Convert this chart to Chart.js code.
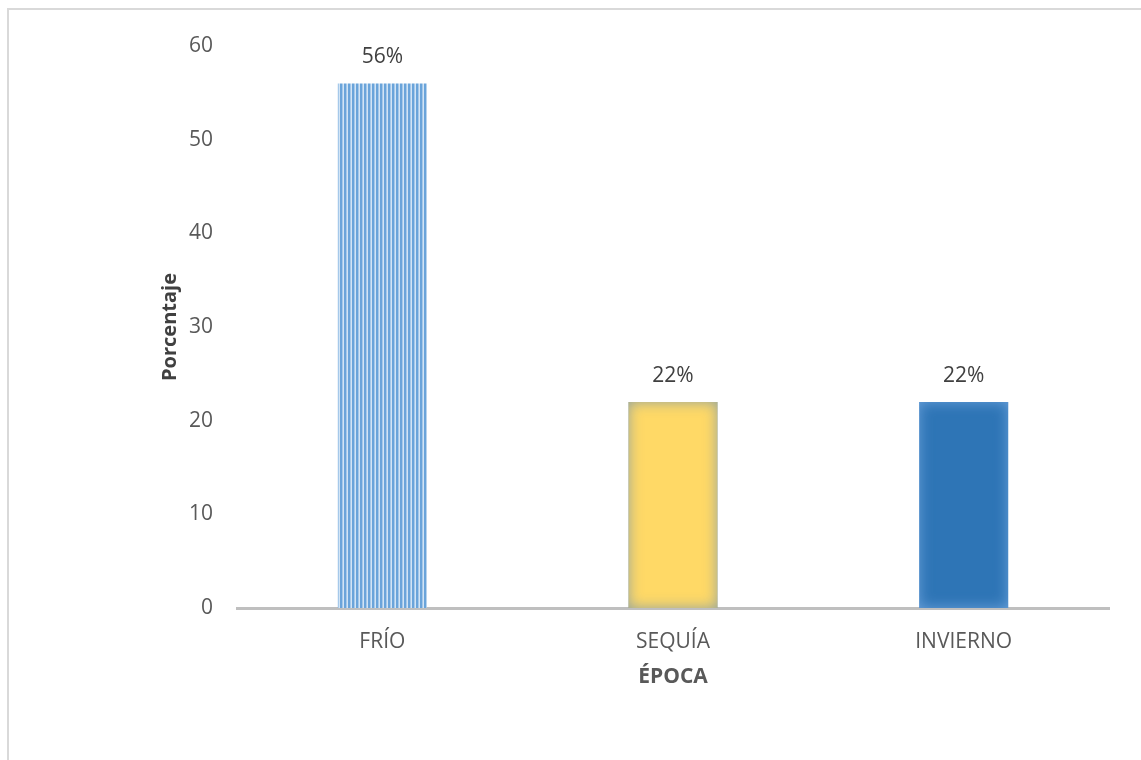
<!DOCTYPE html>
<html>
<head>
<meta charset="utf-8">
<script src="https://cdn.jsdelivr.net/npm/chart.js@4"></script>
<style>
  html, body { margin: 0; padding: 0; background: #fff; overflow: hidden; }
  #frame {
    position: absolute; left: 7px; top: 8px;
    width: 1300px; height: 900px;
    border: 2px solid #d9d9d9;
  }
  #wrap { position: absolute; left: 0; top: 0; width: 1141px; height: 760px; }
</style>
</head>
<body>
<div id="frame"></div>
<div id="wrap"><canvas id="epocaChart" width="1141" height="760"></canvas></div>
<script>
const categories = ['FRÍO', 'SEQUÍA', 'INVIERNO'];
const percentages = [56, 22, 22];
const yTicks = [0, 10, 20, 30, 40, 50, 60];

const labelFont = "'Open Sans', 'Noto Sans', sans-serif";

// vertical pin-stripe fill for the first bar
function stripePattern(ctx) {
    const tile = document.createElement('canvas');
    tile.width = 4;
    tile.height = 4;
    const t = tile.getContext('2d');
    t.fillStyle = '#d2e4f5';
    t.fillRect(0, 0, 4, 4);
    t.fillStyle = '#6aa4da';
    t.fillRect(0, 0, 2, 4);
    t.fillStyle = '#a6c9ea';
    t.fillRect(2, 0, 1, 4);
    return ctx.createPattern(tile, 'repeat');
}

const ctx = document.getElementById('epocaChart').getContext('2d');
const fills = [stripePattern(ctx), '#ffd966', '#2e75b6'];
const glows = [null, 'rgba(120,150,175,0.9)', 'rgba(120,170,225,0.9)'];

// soft inner shadow along the edges of the solid bars
const innerGlow = {
    id: 'innerGlow',
    afterDatasetsDraw(chart) {
        const c = chart.ctx;
        chart.getDatasetMeta(0).data.forEach((bar, i) => {
            if (!glows[i]) return;
            const half = bar.width / 2;
            const x0 = bar.x - half, x1 = bar.x + half;
            const y0 = bar.y, y1 = bar.base;
            c.save();
            c.beginPath();
            c.rect(x0, y0, x1 - x0, y1 - y0);
            c.clip();
            c.beginPath();
            c.rect(x0 - 40, y0 - 40, x1 - x0 + 80, y1 - y0 + 80);
            c.rect(x1, y0, x0 - x1, y1 - y0);
            c.shadowColor = glows[i];
            c.shadowBlur = 14;
            c.fillStyle = glows[i];
            c.fill('evenodd');
            c.restore();
        });
    }
};

// value labels above each bar
const valueLabels = {
    id: 'valueLabels',
    afterDatasetsDraw(chart) {
        const c = chart.ctx;
        c.save();
        c.font = '21px ' + labelFont;
        c.fillStyle = '#404040';
        c.textAlign = 'center';
        c.textBaseline = 'middle';
        chart.getDatasetMeta(0).data.forEach((bar, i) => {
            c.fillText(percentages[i] + '%', bar.x, bar.y - 26);
        });
        c.restore();
    }
};

new Chart(ctx, {
    type: 'bar',
    data: {
        labels: categories,
        datasets: [{
            data: percentages,
            backgroundColor: fills,
            borderWidth: 0,
            categoryPercentage: 1,
            barPercentage: 0.306
        }]
    },
    options: {
        responsive: false,
        animation: false,
        layout: { padding: { left: 150, right: 32, top: 46, bottom: 62 } },
        plugins: {
            legend: { display: false },
            tooltip: { enabled: false }
        },
        scales: {
            x: {
                afterFit: (scale) => { scale.height = 90; },
                grid: { display: false, drawTicks: false },
                border: { display: true, color: '#bfbfbf', width: 3 },
                ticks: {
                    padding: 21,
                    color: '#595959',
                    font: { family: labelFont, size: 21 }
                },
                title: {
                    display: true,
                    text: 'ÉPOCA',
                    color: '#595959',
                    padding: { top: 0, bottom: 8 },
                    font: { family: labelFont, size: 21, weight: 'bold' }
                }
            },
            y: {
                min: 0,
                max: 60,
                afterFit: (scale) => { scale.width = 87; },
                afterBuildTicks: (scale) => { scale.ticks = yTicks.map(v => ({ value: v })); },
                grid: { display: false, drawTicks: false },
                border: { display: false },
                ticks: {
                    padding: 24,
                    color: '#595959',
                    font: { family: labelFont, size: 21 }
                },
                title: {
                    display: true,
                    text: 'Porcentaje',
                    color: '#404040',
                    padding: { top: 8, bottom: 0 },
                    font: { family: labelFont, size: 20, weight: 'bold' }
                }
            }
        }
    },
    plugins: [innerGlow, valueLabels]
});
</script>
</body>
</html>
